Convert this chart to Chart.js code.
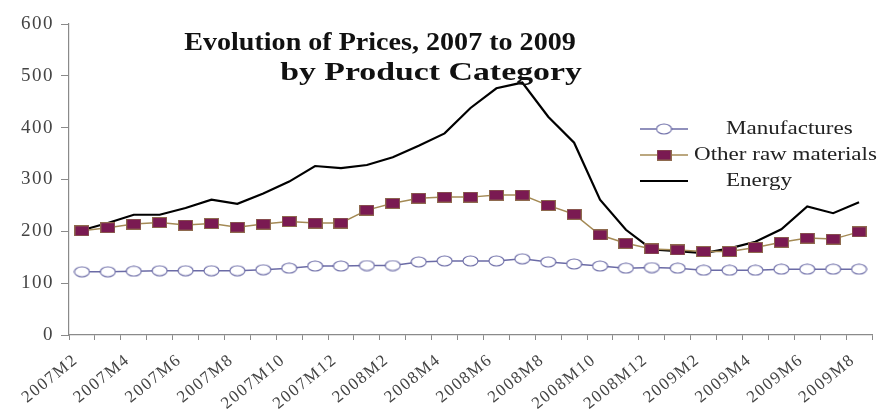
<!DOCTYPE html>
<html>
<head>
<meta charset="utf-8">
<script src="https://cdn.jsdelivr.net/npm/chart.js@4.4.1/dist/chart.umd.min.js"></script>
<style>
  html, body { margin: 0; padding: 0; background: #ffffff; }
  #wrap { width: 885px; height: 410px; position: relative; }
</style>
</head>
<body>
<div id="wrap"><canvas id="c" width="885" height="410"></canvas></div>
<script>
// Monthly categories, 2007M2 .. 2009M8
const months = [
  '2007M2','2007M3','2007M4','2007M5','2007M6','2007M7','2007M8','2007M9','2007M10','2007M11','2007M12',
  '2008M1','2008M2','2008M3','2008M4','2008M5','2008M6','2008M7','2008M8','2008M9','2008M10','2008M11','2008M12',
  '2009M1','2009M2','2009M3','2009M4','2009M5','2009M6','2009M7','2009M8'
];

// Price indices by product category
const manufactures = [122,122,123,124,124,124,124,126,129,133,133,134,134,141,143,143,143,147,141,137,133,129,130,129,125,125,125,127,127,127,127];
const otherRawMaterials = [201,207,214,217,212,215,208,214,219,216,216,241,254,264,266,266,270,270,250,233,193,177,166,164,161,161,169,179,187,185,199];
const energy = [202,216,232,232,245,261,253,273,296,326,322,328,343,365,389,438,476,487,421,371,261,203,165,162,158,167,180,204,248,235,256];

const seriesNames = ['Manufactures', 'Other raw materials', 'Energy'];
const titleLines = ['Evolution of Prices, 2007 to 2009', 'by Product Category'];
const yTicks = [0, 100, 200, 300, 400, 500, 600];

const SERIF = '"Liberation Serif", "Times New Roman", serif';
const MANU_COLOR = '#6b6ba6';
const RAW_LINE = '#a48a55';
const RAW_FILL = '#7a1a52';

// Marker images: an open ellipse and a filled box
function makeEllipse() {
  const c = document.createElement('canvas');
  c.width = 17; c.height = 12;
  const g = c.getContext('2d');
  g.beginPath();
  g.ellipse(8.5, 6, 7.5, 5, 0, 0, Math.PI * 2);
  g.fillStyle = '#ffffff';
  g.fill();
  g.lineWidth = 1.1;
  g.strokeStyle = MANU_COLOR;
  g.stroke();
  return c;
}
function makeBox() {
  const c = document.createElement('canvas');
  c.width = 15; c.height = 11;
  const g = c.getContext('2d');
  g.fillStyle = RAW_FILL;
  g.fillRect(0.5, 0.5, 14, 10);
  g.lineWidth = 1;
  g.strokeStyle = '#8e6a4e';
  g.strokeRect(0.5, 0.5, 14, 10);
  return c;
}
const ellipseImg = makeEllipse();
const boxImg = makeBox();

// Draw text horizontally widened by a factor
function wideText(ctx, text, x, y, stretch, align) {
  const w = ctx.measureText(text).width * stretch;
  let left = x;
  if (align === 'center') left = x - w / 2;
  ctx.save();
  ctx.textAlign = 'left';
  ctx.translate(left, y);
  ctx.scale(stretch, 1);
  ctx.fillText(text, 0, 0);
  ctx.restore();
}

// Wider tick lettering for the axes
const axisSpacing = {
  id: 'axisSpacing',
  beforeDraw(chart) { chart.ctx.letterSpacing = '1.5px'; },
  beforeDatasetsDraw(chart) { chart.ctx.letterSpacing = '0px'; }
};

// Title and legend drawn inside the plot frame
const overlay = {
  id: 'overlay',
  afterDraw(chart) {
    const ctx = chart.ctx;
    ctx.save();
    ctx.letterSpacing = '0px';
    ctx.fillStyle = '#111111';
    ctx.textBaseline = 'alphabetic';
    ctx.font = 'bold 26px ' + SERIF;
    wideText(ctx, titleLines[0], 380, 50, 1.08, 'center');
    wideText(ctx, titleLines[1], 431, 80, 1.3, 'center');

    // legend
    const rows = [
      { y: 129, color: MANU_COLOR, w: 1.5, img: ellipseImg, tx: 726 },
      { y: 155, color: RAW_LINE, w: 1.5, img: boxImg, tx: 694 },
      { y: 181, color: '#000000', w: 2.2, img: null, tx: 726 }
    ];
    ctx.textBaseline = 'middle';
    ctx.font = '18px ' + SERIF;
    rows.forEach((r, i) => {
      ctx.beginPath();
      ctx.moveTo(640, r.y);
      ctx.lineTo(688, r.y);
      ctx.strokeStyle = r.color;
      ctx.lineWidth = r.w;
      ctx.stroke();
      if (r.img) ctx.drawImage(r.img, 664 - r.img.width / 2, r.y - r.img.height / 2);
      ctx.fillStyle = '#222222';
      wideText(ctx, chart.data.datasets[i].label, r.tx, r.y, 1.28, 'left');
    });
    ctx.restore();
  }
};

new Chart(document.getElementById('c'), {
  type: 'line',
  data: {
    labels: months,
    datasets: [
      {
        label: seriesNames[0],
        data: manufactures,
        borderColor: MANU_COLOR,
        borderWidth: 1.5,
        pointStyle: ellipseImg,
        pointRadius: 6,
        tension: 0
      },
      {
        label: seriesNames[1],
        data: otherRawMaterials,
        borderColor: RAW_LINE,
        borderWidth: 1.5,
        pointStyle: boxImg,
        pointRadius: 6,
        tension: 0
      },
      {
        label: seriesNames[2],
        data: energy,
        borderColor: '#000000',
        borderWidth: 2.2,
        pointRadius: 0,
        tension: 0
      }
    ]
  },
  options: {
    responsive: false,
    animation: false,
    layout: { padding: { top: 24, right: 13, left: 0, bottom: 0 } },
    plugins: {
      legend: { display: false },
      title: { display: false },
      tooltip: { enabled: false }
    },
    scales: {
      x: {
        type: 'category',
        offset: true,
        grid: {
          display: true,
          drawOnChartArea: false,
          offset: true,
          tickLength: 5,
          color: '#8a8a8a'
        },
        border: { color: '#8a8a8a', width: 1.2 },
        ticks: {
          autoSkip: false,
          maxRotation: 39,
          minRotation: 39,
          padding: 10,
          labelOffset: -6,
          color: '#444444',
          font: { family: SERIF, size: 17 },
          callback: function (v, i) { return i % 2 === 0 ? months[i] : ''; }
        },
        afterFit(scale) { scale.height = 75; }
      },
      y: {
        min: 0,
        max: 600,
        afterBuildTicks(scale) { scale.ticks = yTicks.map(v => ({ value: v })); },
        grid: {
          display: true,
          drawOnChartArea: false,
          tickLength: 8,
          color: '#8a8a8a'
        },
        border: { color: '#8a8a8a', width: 1.2 },
        ticks: {
          padding: 7,
          color: '#444444',
          font: { family: SERIF, size: 19 }
        },
        afterFit(scale) { scale.width = 69; }
      }
    }
  },
  plugins: [axisSpacing, overlay]
});
</script>
</body>
</html>
